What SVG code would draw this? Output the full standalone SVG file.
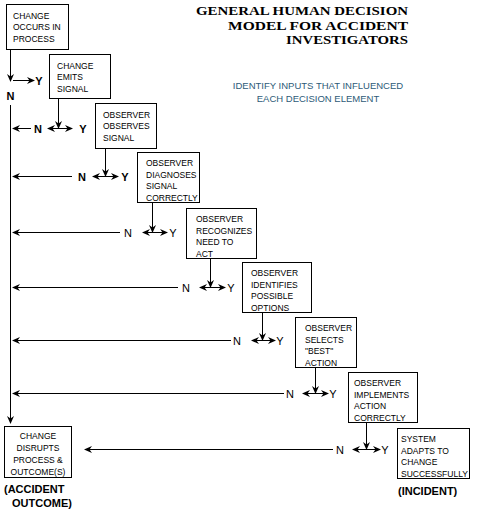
<svg xmlns="http://www.w3.org/2000/svg" width="483" height="522" viewBox="0 0 483 522">
<style>
.box{fill:#fff;stroke:#000;stroke-width:1}
.t{font-family:"Liberation Sans",Arial,sans-serif;font-size:8.5px;fill:#000}
.tc{font-family:"Liberation Sans",Arial,sans-serif;font-size:8.5px;fill:#000;text-anchor:middle}
.ln{stroke:#000;stroke-width:1;fill:none}
.nb{font-family:"Liberation Sans",Arial,sans-serif;font-size:11px;font-weight:bold;fill:#000;text-anchor:middle}
.nt{font-family:"Liberation Sans",Arial,sans-serif;font-size:11px;fill:#000;text-anchor:middle}
.ttl{font-family:"Liberation Serif","Times New Roman",serif;font-size:13px;font-weight:bold;fill:#000;text-anchor:end}
.sub{font-family:"Liberation Sans",Arial,sans-serif;font-size:9.5px;fill:#2d5a78;text-anchor:middle}
.lbl{font-family:"Liberation Sans",Arial,sans-serif;font-size:11px;font-weight:bold;fill:#000}
</style>
<defs>
<marker id="ah" viewBox="0 0 8 8" refX="7" refY="4" markerWidth="8" markerHeight="8" markerUnits="userSpaceOnUse" orient="auto-start-reverse">
<path d="M0,0.5 L8,4 L0,7.5 L2.5,4 Z" fill="#000"/>
</marker>
</defs>

<g id="title">
<text class="ttl" x="408" y="15" textLength="212" lengthAdjust="spacingAndGlyphs">GENERAL HUMAN  DECISION</text>
<text class="ttl" x="408" y="29.5" textLength="180" lengthAdjust="spacingAndGlyphs">MODEL FOR  ACCIDENT</text>
<text class="ttl" x="408" y="44" textLength="122" lengthAdjust="spacingAndGlyphs">INVESTIGATORS</text>
</g>
<g id="subtitle">
<text class="sub" x="318" y="89">IDENTIFY INPUTS THAT INFLUENCED</text>
<text class="sub" x="318" y="102">EACH DECISION ELEMENT</text>
</g>

<g id="n1">
<rect class="box" x="6.5" y="4.5" width="62" height="45"/>
<text class="t" x="13" y="18.5">CHANGE</text>
<text class="t" x="13" y="30">OCCURS IN</text>
<text class="t" x="13" y="41.5">PROCESS</text>
</g>
<g id="n2">
<rect class="box" x="49.5" y="54.5" width="61" height="44"/>
<text class="t" x="57" y="68.5">CHANGE</text>
<text class="t" x="57" y="80">EMITS</text>
<text class="t" x="57" y="91.5">SIGNAL</text>
</g>
<g id="n3">
<rect class="box" x="95.5" y="103.5" width="61" height="45"/>
<text class="t" x="103" y="117.5">OBSERVER</text>
<text class="t" x="103" y="129">OBSERVES</text>
<text class="t" x="103" y="140.5">SIGNAL</text>
</g>
<g id="n4">
<rect class="box" x="137.5" y="152.5" width="62" height="50"/>
<text class="t" x="146" y="166">OBSERVER</text>
<text class="t" x="146" y="177.5">DIAGNOSES</text>
<text class="t" x="146" y="189">SIGNAL</text>
<text class="t" x="146" y="200.5">CORRECTLY</text>
</g>
<g id="n5">
<rect class="box" x="186.5" y="208.5" width="70" height="50"/>
<text class="t" x="196" y="222">OBSERVER</text>
<text class="t" x="196" y="233.5">RECOGNIZES</text>
<text class="t" x="196" y="245">NEED  TO</text>
<text class="t" x="196" y="256.5">ACT</text>
</g>
<g id="n6">
<rect class="box" x="242.5" y="262.5" width="69" height="50"/>
<text class="t" x="251" y="276">OBSERVER</text>
<text class="t" x="251" y="287.5">IDENTIFIES</text>
<text class="t" x="251" y="299">POSSIBLE</text>
<text class="t" x="251" y="310.5">OPTIONS</text>
</g>
<g id="n7">
<rect class="box" x="295.5" y="317.5" width="61" height="50"/>
<text class="t" x="305" y="331">OBSERVER</text>
<text class="t" x="305" y="342.5">SELECTS</text>
<text class="t" x="305" y="354">"BEST"</text>
<text class="t" x="305" y="365.5">ACTION</text>
</g>
<g id="n8">
<rect class="box" x="348.5" y="372.5" width="69" height="50"/>
<text class="t" x="354" y="386">OBSERVER</text>
<text class="t" x="354" y="397.5">IMPLEMENTS</text>
<text class="t" x="354" y="409">ACTION</text>
<text class="t" x="354" y="420.5">CORRECTLY</text>
</g>
<g id="n9">
<rect class="box" x="397.5" y="428.5" width="72" height="50"/>
<text class="t" x="401" y="442">SYSTEM</text>
<text class="t" x="401" y="453.5">ADAPTS TO</text>
<text class="t" x="401" y="465">CHANGE</text>
<text class="t" x="401" y="476.5">SUCCESSFULLY</text>
</g>
<g id="n10">
<rect class="box" x="4.5" y="426.5" width="67" height="51"/>
<text class="tc" x="38" y="438.5">CHANGE</text>
<text class="tc" x="38" y="451">DISRUPTS</text>
<text class="tc" x="38" y="463">PROCESS &amp;</text>
<text class="tc" x="38" y="475">OUTCOME(S)</text>
</g>

<g id="connectors">
<line class="ln" x1="10.5" y1="49.5" x2="10.5" y2="81" marker-end="url(#ah)"/>
<line class="ln" x1="13" y1="80.5" x2="34" y2="80.5" marker-end="url(#ah)"/>
<line class="ln" x1="10.5" y1="105" x2="10.5" y2="423" marker-end="url(#ah)"/>
<line class="ln" x1="58.5" y1="98.5" x2="58.5" y2="128" marker-end="url(#ah)"/>
<line class="ln" x1="48" y1="128.5" x2="72" y2="128.5" marker-start="url(#ah)" marker-end="url(#ah)"/>
<line class="ln" x1="31" y1="128.5" x2="13" y2="128.5" marker-end="url(#ah)"/>
<line class="ln" x1="105.5" y1="148.5" x2="105.5" y2="176" marker-end="url(#ah)"/>
<line class="ln" x1="93" y1="176.5" x2="118" y2="176.5" marker-start="url(#ah)" marker-end="url(#ah)"/>
<line class="ln" x1="72" y1="176.5" x2="13" y2="176.5" marker-end="url(#ah)"/>
<line class="ln" x1="152.5" y1="202.5" x2="152.5" y2="232" marker-end="url(#ah)"/>
<line class="ln" x1="143" y1="232.5" x2="167" y2="232.5" marker-start="url(#ah)" marker-end="url(#ah)"/>
<line class="ln" x1="120" y1="232.5" x2="13" y2="232.5" marker-end="url(#ah)"/>
<line class="ln" x1="210.5" y1="258.5" x2="210.5" y2="287" marker-end="url(#ah)"/>
<line class="ln" x1="200" y1="287.5" x2="225" y2="287.5" marker-start="url(#ah)" marker-end="url(#ah)"/>
<line class="ln" x1="178" y1="287.5" x2="13" y2="287.5" marker-end="url(#ah)"/>
<line class="ln" x1="262.5" y1="312.5" x2="262.5" y2="340" marker-end="url(#ah)"/>
<line class="ln" x1="252" y1="340.5" x2="275" y2="340.5" marker-start="url(#ah)" marker-end="url(#ah)"/>
<line class="ln" x1="231" y1="340.5" x2="13" y2="340.5" marker-end="url(#ah)"/>
<line class="ln" x1="315.5" y1="367.5" x2="315.5" y2="393" marker-end="url(#ah)"/>
<line class="ln" x1="303" y1="393.5" x2="328" y2="393.5" marker-start="url(#ah)" marker-end="url(#ah)"/>
<line class="ln" x1="284" y1="393.5" x2="13" y2="393.5" marker-end="url(#ah)"/>
<line class="ln" x1="366.5" y1="422.5" x2="366.5" y2="449" marker-end="url(#ah)"/>
<line class="ln" x1="353" y1="449.5" x2="380" y2="449.5" marker-start="url(#ah)" marker-end="url(#ah)"/>
<line class="ln" x1="333" y1="449.5" x2="85" y2="449.5" marker-end="url(#ah)"/>
</g>

<g id="yn-labels">
<text class="nb" x="39" y="84.5">Y</text>
<text class="nb" x="10.5" y="100">N</text>
<text class="nb" x="38" y="132.5">N</text>
<text class="nb" x="83" y="132.5">Y</text>
<text class="nb" x="82" y="180.5">N</text>
<text class="nb" x="125" y="180.5">Y</text>
<text class="nt" x="128" y="236.5">N</text>
<text class="nt" x="173" y="236.5">Y</text>
<text class="nt" x="186" y="291.5">N</text>
<text class="nt" x="231" y="291.5">Y</text>
<text class="nt" x="237" y="344.5">N</text>
<text class="nt" x="280" y="344.5">Y</text>
<text class="nt" x="290" y="397.5">N</text>
<text class="nt" x="333" y="397.5">Y</text>
<text class="nt" x="340" y="453.5">N</text>
<text class="nt" x="385" y="453.5">Y</text>
</g>

<g id="outcome-labels">
<text class="lbl" x="4" y="493">(ACCIDENT</text>
<text class="lbl" x="12" y="507">OUTCOME)</text>
<text class="lbl" x="398" y="495">(INCIDENT)</text>
</g>
</svg>
